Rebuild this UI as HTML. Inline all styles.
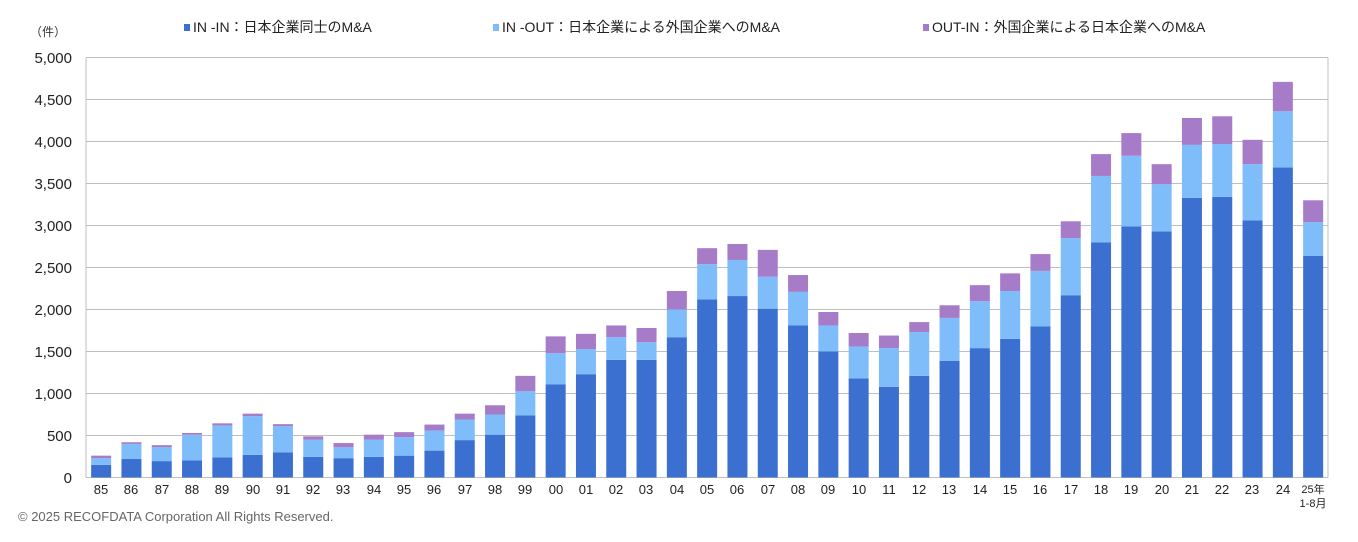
<!DOCTYPE html>
<html><head><meta charset="utf-8"><style>
body{margin:0;background:#fff;}
svg text{font-family:"Liberation Sans","Noto Sans CJK JP",sans-serif;}
</style></head><body>
<svg id="s" width="1358" height="537" xmlns="http://www.w3.org/2000/svg">
<rect width="1358" height="537" fill="#fff"/>
<g id="grid" stroke="#bfbfbf" stroke-width="1"></g>
<g id="bars"></g>
<line x1="86" y1="57.5" x2="86" y2="477.5" stroke="#bfbfbf"/>
<line x1="1328" y1="57.5" x2="1328" y2="477.5" stroke="#bfbfbf"/>
<g font-size="15" fill="#222" text-anchor="end">
<text x="72" y="63">5,000</text><text x="72" y="105">4,500</text><text x="72" y="147">4,000</text>
<text x="72" y="189">3,500</text><text x="72" y="231">3,000</text><text x="72" y="273">2,500</text>
<text x="72" y="315">2,000</text><text x="72" y="357">1,500</text><text x="72" y="399">1,000</text>
<text x="72" y="441">500</text><text x="72" y="483">0</text>
</g>
<text x="48" y="36" font-size="12" fill="#333" text-anchor="middle">（件）</text>
<g font-size="14" fill="#222">
<rect x="184" y="24" width="6" height="7" fill="#3b6fd0"/><text x="193" y="32">IN -IN：日本企業同士のM&amp;A</text>
<rect x="493" y="24" width="6" height="7" fill="#7fbdfa"/><text x="502" y="32">IN -OUT：日本企業による外国企業へのM&amp;A</text>
<rect x="923" y="24" width="6" height="7" fill="#a67bc8"/><text x="932" y="32">OUT-IN：外国企業による日本企業へのM&amp;A</text>
</g>
<g id="xl" font-size="13" fill="#222" text-anchor="middle">
<text x="101" y="494">85</text><text x="131" y="494">86</text><text x="162" y="494">87</text><text x="192" y="494">88</text><text x="222" y="494">89</text><text x="253" y="494">90</text><text x="283" y="494">91</text><text x="313" y="494">92</text><text x="343" y="494">93</text><text x="374" y="494">94</text><text x="404" y="494">95</text><text x="434" y="494">96</text><text x="465" y="494">97</text><text x="495" y="494">98</text><text x="525" y="494">99</text><text x="556" y="494">00</text><text x="586" y="494">01</text><text x="616" y="494">02</text><text x="646" y="494">03</text><text x="677" y="494">04</text><text x="707" y="494">05</text><text x="737" y="494">06</text><text x="768" y="494">07</text><text x="798" y="494">08</text><text x="828" y="494">09</text><text x="859" y="494">10</text><text x="889" y="494">11</text><text x="919" y="494">12</text><text x="949" y="494">13</text><text x="980" y="494">14</text><text x="1010" y="494">15</text><text x="1040" y="494">16</text><text x="1071" y="494">17</text><text x="1101" y="494">18</text><text x="1131" y="494">19</text><text x="1162" y="494">20</text><text x="1192" y="494">21</text><text x="1222" y="494">22</text><text x="1252" y="494">23</text><text x="1283" y="494">24</text>
<text x="1313" y="493" font-size="11">25年</text><text x="1313" y="507" font-size="11">1-8月</text>
</g>
<text x="18" y="521" font-size="13" fill="#666">© 2025 RECOFDATA Corporation All Rights Reserved.</text>
</svg>
<script>
var d=[[150,230,260],[220,400,420],[195,360,385],[205,510,530],[240,620,645],[270,730,760],[300,610,635],[245,450,490],[230,360,410],[245,450,510],[260,480,540],[320,560,630],[445,690,760],[510,750,860],[740,1030,1210],[1110,1480,1680],[1230,1530,1710],[1400,1670,1810],[1400,1610,1780],[1670,2000,2220],[2120,2540,2730],[2160,2590,2780],[2010,2390,2710],[1810,2210,2410],[1500,1810,1970],[1180,1560,1720],[1080,1540,1690],[1210,1730,1850],[1390,1900,2050],[1540,2100,2290],[1650,2220,2430],[1800,2460,2660],[2170,2850,3050],[2800,3590,3850],[2990,3830,4100],[2930,3490,3730],[3330,3960,4280],[3340,3970,4300],[3060,3730,4020],[3690,4360,4710],[2640,3040,3300]];
var ns="http://www.w3.org/2000/svg",g=document.getElementById('grid'),b=document.getElementById('bars');
for(var i=0;i<=10;i++){var y=57.5+42*i;var l=document.createElementNS(ns,'line');l.setAttribute('x1',86);l.setAttribute('x2',1328);l.setAttribute('y1',y);l.setAttribute('y2',y);g.appendChild(l);}
var k=0.084,cols=['#3b6fd0','#7fbdfa','#a67bc8'];
d.forEach(function(v,i){var x=86+30.3*i+5.15,prev=0;for(var j=0;j<3;j++){var r=document.createElementNS(ns,'rect');r.setAttribute('x',x);r.setAttribute('width',20);r.setAttribute('y',477.5-v[j]*k);r.setAttribute('height',(v[j]-prev)*k);r.setAttribute('fill',cols[j]);b.appendChild(r);prev=v[j];}});
</script>
</body></html>
